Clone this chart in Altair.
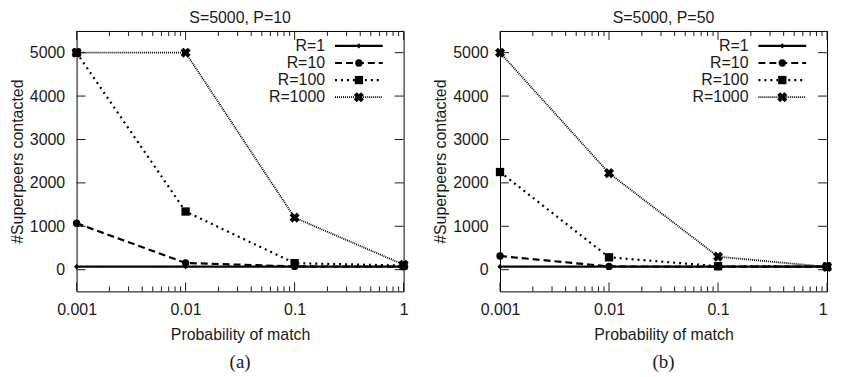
import altair as alt
import pandas as pd

# ---- data ----
prob = [0.001, 0.01, 0.1, 1]
series = ["R=1", "R=10", "R=100", "R=1000"]

a_R1 = [70, 70, 70, 70]
a_R10 = [1070, 155, 75, 70]
a_R100 = [5000, 1340, 150, 95]
a_R1000 = [5000, 5000, 1200, 115]

b_R1 = [70, 70, 70, 70]
b_R10 = [315, 75, 70, 70]
b_R100 = [2250, 285, 80, 70]
b_R1000 = [5000, 2225, 300, 65]

y_tick_vals = [0, 1000, 2000, 3000, 4000, 5000]
x_major = [0.001, 0.01, 0.1, 1]
x_minor = [k * 10.0 ** e for e in (-3, -2, -1) for k in range(2, 10)]

W, H = 329, 262
FONT = "Liberation Sans"
INK = "#1a1a1a"

styles = {
    "R=1": dict(dash=[1, 0], width=2.2, shape="diamond", size=28, angle=0),
    "R=10": dict(dash=[7, 4], width=2.2, shape="circle", size=55, angle=0),
    "R=100": dict(dash=[2, 4], width=2.2, shape="square", size=70, angle=0),
    "R=1000": dict(dash=[1, 1], width=1.8, shape="cross", size=105, angle=45),
}

xscale = alt.Scale(type="log", domain=[0.001, 1], nice=False)
yscale = alt.Scale(domain=[-500, 5500], nice=False, zero=False)
yaxis = alt.Axis(values=y_tick_vals, title="#Superpeers contacted", format="d",
                 labelPadding=12, titlePadding=4)


def make_xaxis(flush_last):
    kw = dict(values=x_major, title="Probability of match",
              labelExpr="format(datum.value, '~g')",
              labelPadding=10, titlePadding=9, labelFlush=False)
    if flush_last:
        kw["labelAlign"] = {"condition": {"test": "datum.value >= 1", "value": "right"},
                            "value": "center"}
    return alt.Axis(**kw)


def panel(vals, title, tag, flush_last):
    xaxis = make_xaxis(flush_last)

    def X(f):
        return alt.X(f, scale=xscale, axis=xaxis)

    def Y(f):
        return alt.Y(f, scale=yscale, axis=yaxis)

    rows = []
    for s, v in zip(series, vals):
        for p, y in zip(prob, v):
            rows.append({"p": p, "v": y, "series": s})
    df = pd.DataFrame(rows)

    layers = []
    layers.append(alt.Chart(df).mark_point(opacity=0).encode(x=X("p:Q"), y=Y("v:Q")))
    yt = pd.DataFrame({"t": y_tick_vals})
    for x1, x2 in ((0, 9), (W - 9, W)):
        layers.append(alt.Chart(yt).mark_rule(color=INK, strokeWidth=1).encode(
            y=Y("t:Q"), x=alt.value(x1), x2=alt.value(x2)))
    for vals_t, ln in ((x_major, 9), (x_minor, 5)):
        xt = pd.DataFrame({"t": vals_t})
        for y1, y2 in ((H, H - ln), (0, ln)):
            layers.append(alt.Chart(xt).mark_rule(color=INK, strokeWidth=1).encode(
                x=X("t:Q"), y=alt.value(y1), y2=alt.value(y2)))
    for s in series:
        st = styles[s]
        sd = df[df.series == s]
        layers.append(alt.Chart(sd).mark_line(
            color="black", strokeDash=st["dash"], strokeWidth=st["width"]).encode(
            x=X("p:Q"), y=Y("v:Q")))
        layers.append(alt.Chart(sd).mark_point(
            color="black", filled=True, opacity=1, shape=st["shape"],
            size=st["size"], angle=st["angle"]).encode(x=X("p:Q"), y=Y("v:Q")))
    one = pd.DataFrame({"a": [0]})
    for i, s in enumerate(series):
        st = styles[s]
        yy = 15 + 17.2 * i
        layers.append(alt.Chart(one).mark_text(
            align="right", baseline="middle", font=FONT, fontSize=16, color=INK).encode(
            x=alt.value(W - 79), y=alt.value(yy), text=alt.value(s)))
        layers.append(alt.Chart(one).mark_rule(
            color="black", strokeDash=st["dash"], strokeWidth=st["width"]).encode(
            x=alt.value(W - 69), x2=alt.value(W - 21), y=alt.value(yy)))
        layers.append(alt.Chart(one).mark_point(
            color="black", filled=True, opacity=1, shape=st["shape"],
            size=st["size"], angle=st["angle"]).encode(
            x=alt.value(W - 45), y=alt.value(yy)))
    layers.append(alt.Chart(one).mark_text(
        align="center", baseline="middle", font="Liberation Serif", fontSize=19,
        color=INK).encode(x=alt.value(W / 2), y=alt.value(H + 71), text=alt.value(tag)))

    return alt.layer(*layers).properties(
        width=W, height=H,
        title=alt.TitleParams(title, font=FONT, fontSize=16, fontWeight="normal",
                              color=INK, offset=1, dy=-4),
    )


left = panel([a_R1, a_R10, a_R100, a_R1000], "S=5000, P=10", "(a)", False)
right = panel([b_R1, b_R10, b_R100, b_R1000], "S=5000, P=50", "(b)", True)

chart = alt.hconcat(left, right, spacing=22).properties(
    padding={"left": 0, "top": 0, "right": 0, "bottom": 0}
).configure_view(stroke="black", strokeWidth=1).configure_axis(
    domain=False, ticks=False, tickSize=0, grid=False,
    labelFont=FONT, labelFontSize=16, labelColor=INK,
    titleFont=FONT, titleFontSize=16, titleFontWeight="normal", titleColor=INK,
)

chart.save("out.html", embed_options={"renderer": "svg", "actions": False})
